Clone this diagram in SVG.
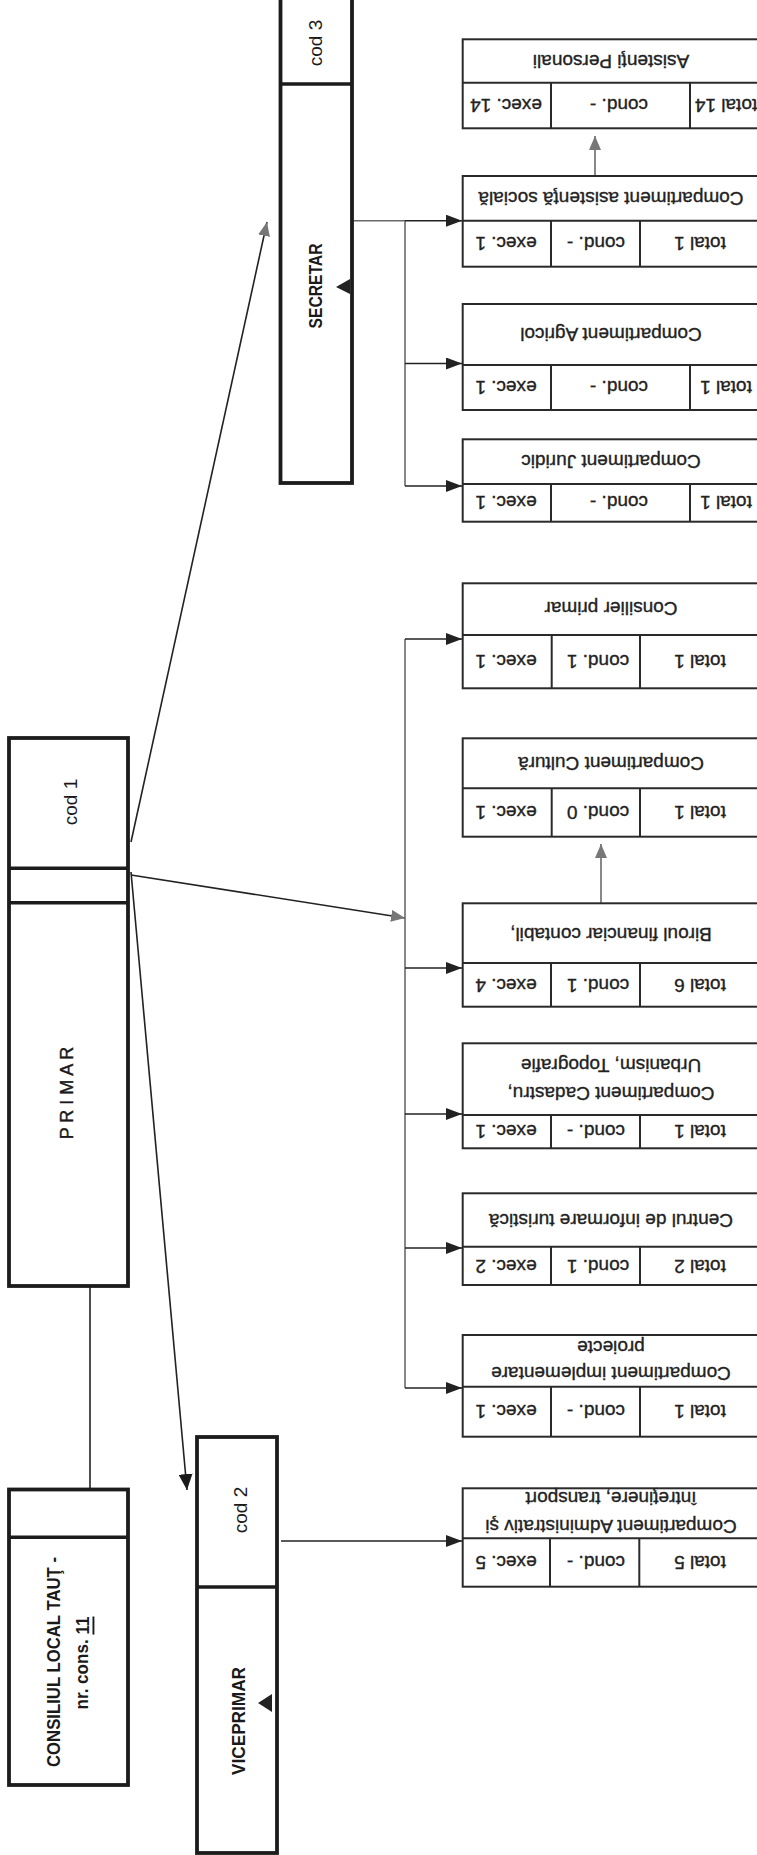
<svg xmlns="http://www.w3.org/2000/svg" width="757" height="1855" viewBox="0 0 757 1855">
<style>
.bx{fill:#fff;stroke:#1c1c1c;stroke-width:3.8}
.dv{stroke:#1c1c1c;stroke-width:3.5}
.tb{fill:#fff;stroke:#2a2a2a;stroke-width:2}
.tl{stroke:#2a2a2a;stroke-width:2}
.c{fill:none;stroke:#222;stroke-width:1.6}
.bus{fill:none;stroke:#6a6a6a;stroke-width:1.6}
.t{font-family:"Liberation Sans",Arial,sans-serif;font-size:19px;fill:#222;stroke:#222;stroke-width:0.35;text-anchor:middle;dominant-baseline:central}
.lb{font-family:"Liberation Sans",Arial,sans-serif;font-size:19px;font-weight:bold;fill:#1a1a1a;text-anchor:middle;dominant-baseline:central}
.lr{font-family:"Liberation Sans",Arial,sans-serif;font-size:19px;fill:#1a1a1a;text-anchor:middle;dominant-baseline:central}
</style>
<defs>
<marker id="ah" viewBox="0 0 16 12" markerWidth="16" markerHeight="12" refX="16" refY="6" orient="auto" markerUnits="userSpaceOnUse"><path d="M0,0 L16,6 L0,12 z" fill="#222"/></marker>
<marker id="ahg" viewBox="0 0 14 12" markerWidth="14" markerHeight="12" refX="14" refY="6" orient="auto" markerUnits="userSpaceOnUse"><path d="M0,0 L14,6 L0,12 z" fill="#777"/></marker>
<marker id="ahd" viewBox="0 0 16 14" markerWidth="16" markerHeight="14" refX="16" refY="7" orient="auto" markerUnits="userSpaceOnUse"><path d="M0,0 L16,7 L0,14 z" fill="#1a1a1a"/></marker>
</defs>
<rect width="757" height="1855" fill="#fff"/>

<g id="connectors">
<line class="c" x1="90" y1="1287" x2="90" y2="1488"/>
<line class="c" x1="131" y1="842" x2="267" y2="222" marker-end="url(#ahg)"/>
<line class="c" x1="131" y1="875" x2="405" y2="918" marker-end="url(#ahg)"/>
<line class="c" x1="131" y1="872" x2="187" y2="1490" marker-end="url(#ahd)"/>
<path class="bus" d="M353,220.7 H405 V486"/>
<line class="c" x1="405" y1="220.7" x2="462" y2="220.7" marker-end="url(#ah)"/>
<line class="c" x1="405" y1="363.5" x2="462" y2="363.5" marker-end="url(#ah)"/>
<line class="c" x1="405" y1="486" x2="462" y2="486" marker-end="url(#ah)"/>
<path class="bus" d="M405,639 V1388"/>
<line class="c" x1="405" y1="639" x2="462" y2="639" marker-end="url(#ah)"/>
<line class="c" x1="405" y1="968" x2="462" y2="968" marker-end="url(#ah)"/>
<line class="c" x1="405" y1="1114" x2="462" y2="1114" marker-end="url(#ah)"/>
<line class="c" x1="405" y1="1248" x2="462" y2="1248" marker-end="url(#ah)"/>
<line class="c" x1="405" y1="1388" x2="462" y2="1388" marker-end="url(#ah)"/>
<line class="c" x1="281" y1="1541" x2="462" y2="1541" marker-end="url(#ah)"/>
<line class="bus" x1="595" y1="176" x2="595" y2="136" marker-end="url(#ahg)"/>
<line class="bus" x1="601" y1="903" x2="601" y2="844" marker-end="url(#ahg)"/>
</g>

<g id="n-secretar">
<rect class="bx" x="280.5" y="-5" width="71.5" height="488"/>
<line class="dv" x1="280.5" y1="84" x2="352" y2="84"/>
<text class="lr" transform="rotate(-90 315 43)" x="315" y="43">cod 3</text>
<text class="lb" transform="rotate(-90 315 286)" x="315" y="286" textLength="85" lengthAdjust="spacingAndGlyphs">SECRETAR</text>
<path d="M336,287 L350,279 L350,294 z" fill="#222"/>
</g>

<g id="n-primar">
<rect class="bx" x="9" y="738" width="119" height="548"/>
<line class="dv" x1="9" y1="868.3" x2="128" y2="868.3"/>
<line class="dv" x1="9" y1="902.7" x2="128" y2="902.7"/>
<text class="lr" transform="rotate(-90 70 802)" x="70" y="802">cod 1</text>
<text class="lr" style="font-size:18px;stroke:#1a1a1a;stroke-width:0.4" transform="rotate(-90 67 1093)" x="67" y="1093">P R I M A R</text>
</g>

<g id="n-consiliul">
<rect class="bx" x="9" y="1489.5" width="119" height="295.5"/>
<line class="dv" x1="9" y1="1537.3" x2="128" y2="1537.3"/>
<text class="lb" transform="rotate(-90 53.5 1662)" x="53.5" y="1662" textLength="210" lengthAdjust="spacingAndGlyphs">CONSILIUL LOCAL TAUŢ -</text>
<text class="lb" transform="rotate(-90 81.5 1663)" x="81.5" y="1663" textLength="93" lengthAdjust="spacingAndGlyphs">nr. cons. <tspan text-decoration="underline">11</tspan></text>
</g>

<g id="n-viceprimar">
<rect class="bx" x="197" y="1437" width="80" height="416"/>
<line class="dv" x1="197" y1="1587" x2="277" y2="1587"/>
<text class="lr" transform="rotate(-90 240 1510)" x="240" y="1510">cod 2</text>
<text class="lb" transform="rotate(-90 238 1721)" x="238" y="1721" textLength="108" lengthAdjust="spacingAndGlyphs">VICEPRIMAR</text>
<path d="M258,1703 L272,1694 L272,1712 z" fill="#222"/>
</g>

<g id="t-asistenti-personali">
<rect class="tb" x="462.7" y="39.3" width="300" height="89"/>
<line class="tl" x1="462.7" y1="82.7" x2="763" y2="82.7"/>
<line class="tl" x1="551" y1="82.7" x2="551" y2="128.3"/>
<line class="tl" x1="690" y1="82.7" x2="690" y2="128.3"/>
<text class="t" transform="rotate(180 611 61)" x="611" y="61">Asistenţi Personali</text>
<text class="t" transform="rotate(180 506 105.5)" x="506" y="105.5">exec. 14</text>
<text class="t" transform="rotate(180 619 105.5)" x="619" y="105.5">cond. -</text>
<text class="t" transform="rotate(180 726 105.5)" x="726" y="105.5">total 14</text>
</g>

<g id="t-asistenta-sociala">
<rect class="tb" x="462.7" y="176" width="300" height="90.7"/>
<line class="tl" x1="462.7" y1="220.7" x2="763" y2="220.7"/>
<line class="tl" x1="551" y1="220.7" x2="551" y2="266.7"/>
<line class="tl" x1="640" y1="220.7" x2="640" y2="266.7"/>
<text class="t" transform="rotate(180 611 198.3)" x="611" y="198.3">Compartiment asistenţă socială</text>
<text class="t" transform="rotate(180 506 243.7)" x="506" y="243.7">exec. 1</text>
<text class="t" transform="rotate(180 596 243.7)" x="596" y="243.7">cond. -</text>
<text class="t" transform="rotate(180 700 243.7)" x="700" y="243.7">total 1</text>
</g>

<g id="t-agricol">
<rect class="tb" x="462.7" y="304" width="300" height="106"/>
<line class="tl" x1="462.7" y1="365" x2="763" y2="365"/>
<line class="tl" x1="551" y1="365" x2="551" y2="410"/>
<line class="tl" x1="690" y1="365" x2="690" y2="410"/>
<text class="t" transform="rotate(180 611 334)" x="611" y="334">Compartiment Agricol</text>
<text class="t" transform="rotate(180 506 387.5)" x="506" y="387.5">exec. 1</text>
<text class="t" transform="rotate(180 619 387.5)" x="619" y="387.5">cond. -</text>
<text class="t" transform="rotate(180 726 387.5)" x="726" y="387.5">total 1</text>
</g>

<g id="t-juridic">
<rect class="tb" x="462.7" y="439.3" width="300" height="82.4"/>
<line class="tl" x1="462.7" y1="484" x2="763" y2="484"/>
<line class="tl" x1="551" y1="484" x2="551" y2="521.7"/>
<line class="tl" x1="690" y1="484" x2="690" y2="521.7"/>
<text class="t" transform="rotate(180 611 461.7)" x="611" y="461.7">Compartiment Juridic</text>
<text class="t" transform="rotate(180 506 502.8)" x="506" y="502.8">exec. 1</text>
<text class="t" transform="rotate(180 619 502.8)" x="619" y="502.8">cond. -</text>
<text class="t" transform="rotate(180 726 502.8)" x="726" y="502.8">total 1</text>
</g>

<g id="t-consilier">
<rect class="tb" x="462.7" y="583.3" width="300" height="105"/>
<line class="tl" x1="462.7" y1="635" x2="763" y2="635"/>
<line class="tl" x1="551.7" y1="635" x2="551.7" y2="688.3"/>
<line class="tl" x1="640" y1="635" x2="640" y2="688.3"/>
<text class="t" transform="rotate(180 611 608)" x="611" y="608">Consilier primar</text>
<text class="t" transform="rotate(180 506 661.7)" x="506" y="661.7">exec. 1</text>
<text class="t" transform="rotate(180 598 661.7)" x="598" y="661.7">cond. 1</text>
<text class="t" transform="rotate(180 700 661.7)" x="700" y="661.7">total 1</text>
</g>

<g id="t-cultura">
<rect class="tb" x="462.7" y="738.3" width="300" height="98.4"/>
<line class="tl" x1="462.7" y1="788.3" x2="763" y2="788.3"/>
<line class="tl" x1="551.7" y1="788.3" x2="551.7" y2="836.7"/>
<line class="tl" x1="640" y1="788.3" x2="640" y2="836.7"/>
<text class="t" transform="rotate(180 611 763.3)" x="611" y="763.3">Compartiment Cultură</text>
<text class="t" transform="rotate(180 506 812.5)" x="506" y="812.5">exec. 1</text>
<text class="t" transform="rotate(180 598 812.5)" x="598" y="812.5">cond. 0</text>
<text class="t" transform="rotate(180 700 812.5)" x="700" y="812.5">total 1</text>
</g>

<g id="t-birou">
<rect class="tb" x="462.7" y="903.3" width="300" height="103.4"/>
<line class="tl" x1="462.7" y1="963" x2="763" y2="963"/>
<line class="tl" x1="551" y1="963" x2="551" y2="1006.7"/>
<line class="tl" x1="640" y1="963" x2="640" y2="1006.7"/>
<text class="t" transform="rotate(180 611 934)" x="611" y="934">Biroul financiar contabil,</text>
<text class="t" transform="rotate(180 506 985)" x="506" y="985">exec. 4</text>
<text class="t" transform="rotate(180 598 985)" x="598" y="985">cond. 1</text>
<text class="t" transform="rotate(180 700 985)" x="700" y="985">total 6</text>
</g>

<g id="t-cadastru">
<rect class="tb" x="462.7" y="1043.3" width="300" height="105"/>
<line class="tl" x1="462.7" y1="1115" x2="763" y2="1115"/>
<line class="tl" x1="551" y1="1115" x2="551" y2="1148.3"/>
<line class="tl" x1="640" y1="1115" x2="640" y2="1148.3"/>
<text class="t" transform="rotate(180 611 1093)" x="611" y="1093">Compartiment Cadastru,</text>
<text class="t" transform="rotate(180 611 1065)" x="611" y="1065">Urbanism, Topografie</text>
<text class="t" transform="rotate(180 506 1131.7)" x="506" y="1131.7">exec. 1</text>
<text class="t" transform="rotate(180 596 1131.7)" x="596" y="1131.7">cond. -</text>
<text class="t" transform="rotate(180 700 1131.7)" x="700" y="1131.7">total 1</text>
</g>

<g id="t-centrul">
<rect class="tb" x="462.7" y="1193.3" width="300" height="91.7"/>
<line class="tl" x1="462.7" y1="1246.7" x2="763" y2="1246.7"/>
<line class="tl" x1="551" y1="1246.7" x2="551" y2="1285"/>
<line class="tl" x1="640" y1="1246.7" x2="640" y2="1285"/>
<text class="t" transform="rotate(180 611 1220)" x="611" y="1220">Centrul de informare turistică</text>
<text class="t" transform="rotate(180 506 1266)" x="506" y="1266">exec. 2</text>
<text class="t" transform="rotate(180 598 1266)" x="598" y="1266">cond. 1</text>
<text class="t" transform="rotate(180 700 1266)" x="700" y="1266">total 2</text>
</g>

<g id="t-implementare">
<rect class="tb" x="462.7" y="1335" width="300" height="101.7"/>
<line class="tl" x1="462.7" y1="1386.7" x2="763" y2="1386.7"/>
<line class="tl" x1="551" y1="1386.7" x2="551" y2="1436.7"/>
<line class="tl" x1="640" y1="1386.7" x2="640" y2="1436.7"/>
<text class="t" transform="rotate(180 611 1373.3)" x="611" y="1373.3">Compartiment implementare</text>
<text class="t" transform="rotate(180 611 1347)" x="611" y="1347">proiecte</text>
<text class="t" transform="rotate(180 506 1411.7)" x="506" y="1411.7">exec. 1</text>
<text class="t" transform="rotate(180 596 1411.7)" x="596" y="1411.7">cond. -</text>
<text class="t" transform="rotate(180 700 1411.7)" x="700" y="1411.7">total 1</text>
</g>

<g id="t-administrativ">
<rect class="tb" x="462.7" y="1488.3" width="300" height="98.4"/>
<line class="tl" x1="462.7" y1="1538.3" x2="763" y2="1538.3"/>
<line class="tl" x1="550" y1="1538.3" x2="550" y2="1586.7"/>
<line class="tl" x1="639.3" y1="1538.3" x2="639.3" y2="1586.7"/>
<text class="t" transform="rotate(180 611 1526.7)" x="611" y="1526.7">Compartiment Administrativ şi</text>
<text class="t" transform="rotate(180 611 1498.3)" x="611" y="1498.3">întreţinere, transport</text>
<text class="t" transform="rotate(180 506 1562.5)" x="506" y="1562.5">exec. 5</text>
<text class="t" transform="rotate(180 596 1562.5)" x="596" y="1562.5">cond. -</text>
<text class="t" transform="rotate(180 700 1562.5)" x="700" y="1562.5">total 5</text>
</g>
</svg>
